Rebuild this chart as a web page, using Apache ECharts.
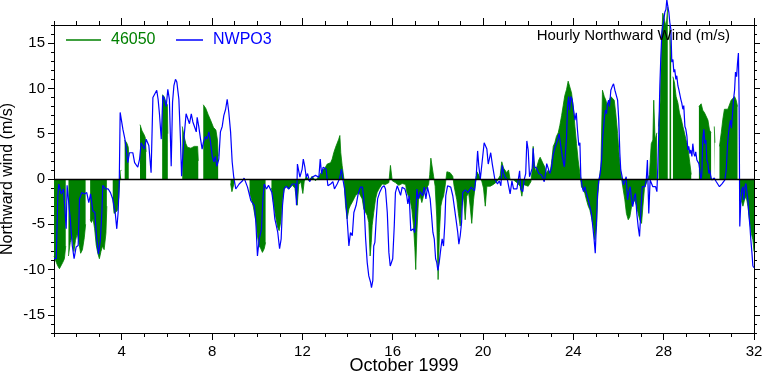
<!DOCTYPE html>
<html><head><meta charset="utf-8">
<script src="https://cdn.jsdelivr.net/npm/echarts@6/dist/echarts.min.js"></script>
<style>html,body{margin:0;padding:0;background:#fff}#c{width:762px;height:374px}</style>
</head><body><div id="c"></div>
<script>
// ---- tick values ----
const xMajorTicks = [4, 8, 12, 16, 20, 24, 28, 32];
const xMinorTicks = [1,2,3,4,5,6,7,8,9,10,11,12,13,14,15,16,17,18,19,20,21,22,23,24,25,26,27,28,29,30,31,32];
const yMajorTicks = [-15, -10, -5, 0, 5, 10, 15];
const yMinorTicks = [-17,-16,-15,-14,-13,-12,-11,-10,-9,-8,-7,-6,-5,-4,-3,-2,-1,0,1,2,3,4,5,6,7,8,9,10,11,12,13,14,15,16,17];

// ---- NWPO3 (blue line): day of October 1999, northward wind (m/s) ----
const nwpoDay = [1.00,1.10,1.17,1.21,1.32,1.42,1.50,1.54,1.58,1.66,1.72,1.81,1.89,1.98,2.07,2.13,2.23,2.35,2.45,2.54,2.62,2.72,2.81,2.88,2.97,3.05,3.12,3.16,3.28,3.40,3.50,3.60,3.71,3.78,3.84,3.89,3.93,4.05,4.14,4.27,4.34,4.49,4.57,4.71,4.79,4.86,5.01,5.08,5.20,5.30,5.38,5.45,5.55,5.61,5.67,5.75,5.82,5.89,5.97,6.04,6.11,6.19,6.25,6.31,6.38,6.44,6.53,6.60,6.65,6.70,6.78,6.85,6.93,7.00,7.08,7.15,7.22,7.30,7.34,7.41,7.49,7.56,7.62,7.71,7.77,7.86,7.93,8.01,8.08,8.15,8.21,8.30,8.37,8.45,8.52,8.60,8.67,8.74,8.82,8.89,8.96,9.05,9.20,9.35,9.42,9.57,9.72,9.87,9.94,10.01,10.09,10.19,10.25,10.31,10.41,10.50,10.57,10.65,10.72,10.78,10.85,10.91,10.99,11.06,11.12,11.19,11.28,11.40,11.55,11.70,11.74,11.78,11.89,11.99,12.04,12.11,12.17,12.23,12.32,12.43,12.58,12.73,12.79,12.85,12.92,13.05,13.13,13.25,13.35,13.42,13.54,13.64,13.73,13.79,13.87,13.94,14.00,14.06,14.13,14.21,14.28,14.38,14.47,14.57,14.66,14.72,14.80,14.87,14.94,15.02,15.06,15.12,15.16,15.21,15.27,15.33,15.42,15.53,15.62,15.68,15.76,15.83,15.89,15.95,16.00,16.07,16.12,16.20,16.27,16.35,16.42,16.54,16.62,16.67,16.73,16.80,16.92,16.97,17.01,17.07,17.13,17.22,17.32,17.40,17.47,17.54,17.62,17.66,17.72,17.78,17.84,17.90,17.95,18.00,18.06,18.13,18.19,18.25,18.31,18.35,18.43,18.50,18.57,18.66,18.74,18.80,18.84,18.88,18.93,18.99,19.05,19.10,19.21,19.33,19.40,19.48,19.55,19.62,19.70,19.76,19.81,19.88,19.93,19.99,20.05,20.11,20.17,20.23,20.29,20.34,20.41,20.46,20.52,20.64,20.72,20.79,20.85,20.91,20.98,21.08,21.20,21.28,21.35,21.50,21.57,21.62,21.67,21.76,21.82,21.89,21.94,22.00,22.06,22.18,22.22,22.27,22.37,22.47,22.59,22.71,22.77,22.82,22.96,23.03,23.09,23.18,23.30,23.37,23.43,23.51,23.60,23.64,23.70,23.74,23.79,23.83,23.89,23.95,24.01,24.07,24.13,24.18,24.24,24.29,24.33,24.39,24.45,24.51,24.58,24.66,24.73,24.80,24.86,24.92,24.97,25.01,25.07,25.13,25.19,25.25,25.29,25.34,25.38,25.42,25.47,25.51,25.56,25.60,25.66,25.72,25.78,25.84,25.90,25.96,26.01,26.06,26.10,26.16,26.22,26.28,26.34,26.40,26.46,26.52,26.58,26.63,26.70,26.75,26.81,26.87,26.93,26.97,27.05,27.17,27.23,27.28,27.34,27.40,27.52,27.64,27.70,27.74,27.79,27.83,27.87,27.92,27.96,28.01,28.05,28.10,28.14,28.18,28.23,28.27,28.32,28.36,28.41,28.45,28.49,28.54,28.58,28.63,28.67,28.72,28.76,28.80,28.85,28.89,28.94,28.98,29.03,29.07,29.11,29.16,29.20,29.25,29.29,29.34,29.38,29.42,29.47,29.51,29.56,29.60,29.65,29.69,29.73,29.78,29.82,29.87,29.91,29.96,30.00,30.04,30.09,30.13,30.24,30.33,30.41,30.47,30.53,30.59,30.65,30.71,30.77,30.83,30.87,30.92,30.96,31.00,31.05,31.09,31.14,31.18,31.23,31.27,31.31,31.34,31.37,31.42,31.46,31.51,31.55,31.60,31.64,31.68,31.73,31.77,31.82,31.86,31.91,31.95,32.00];
const nwpoWind = [-8.8,-8.8,-1.8,-0.55,-1.65,-1.1,-1.1,-5.5,-0.7,-0.55,-4.4,-7.35,-8.8,-7.5,-7.35,-2.2,-1.5,-1.65,-1.5,-2.6,-1.65,-3.5,-3.7,-6.25,-8.3,-6.8,-3.7,-0.7,-1.1,-1.1,-1.5,-2.2,-3.7,-5.5,-3.7,-0.4,7.35,5.5,4.4,1.8,2.9,2.9,1.8,1.3,2.2,4.0,3.3,4.4,3.7,0.7,9.0,9.2,9.8,8.8,7.2,4.4,9.2,8.8,8.0,9.9,8.8,1.4,8.5,10.3,11.0,10.7,8.8,4.4,0.3,2.5,5.2,7.2,7.0,6.1,7.2,6.3,5.8,5.2,6.8,5.8,4.4,3.3,4.1,4.7,4.4,5.2,4.1,2.5,1.9,2.5,1.4,2.2,5.2,5.8,7.0,7.7,8.8,7.4,5.2,1.9,0.2,-1.1,-0.55,-0.2,0.1,-0.9,-2.4,-2.9,-4.8,-8.5,-6.6,-5.5,-2.2,-0.55,-1.1,-0.7,-0.55,-1.5,-2.9,-4.4,-5.2,-5.9,-7.7,-6.6,-2.9,-1.1,-0.8,-1.1,-0.55,-0.55,-2.9,1.65,0.2,1.1,2.2,1.3,0.2,0.6,-0.3,0.2,0.4,0.2,2.2,0.55,1.3,1.1,-0.75,-0.55,-0.3,-1.1,-0.55,0,1.1,0,-1.1,-2.9,-5.1,-7.4,-5.9,-6.25,-3.7,-2.9,-1.65,-0.9,-0.9,-2.2,-6.6,-9.2,-10.7,-11.4,-12.0,-11.2,-7.4,-7.0,-4.4,-2.2,-1.5,-0.9,-0.75,-1.1,-3.7,-8.1,-9.6,-9.7,-8.8,-5.1,-1.5,-0.75,-0.9,-1.8,-0.9,-1.1,-1.85,-2.75,-1.85,-5.7,-5.5,-5.9,-4.8,-1.1,-2.2,-1.4,-1.85,-0.9,-2.2,-0.9,-0.9,-2.2,-4.0,-5.9,-6.6,-8.8,-9.2,-10.1,-9.2,-7.7,-6.6,-7.4,-4.8,-1.85,-0.75,-0.55,-0.9,-1.85,-3.3,-4.4,-4.6,-5.9,-7.2,-6.25,-4.8,-1.5,-1.2,-1.5,-1.65,-0.9,-0.9,-1.3,0.4,3.1,1.5,0,-0.2,2.6,4.0,4.0,3.3,1.65,1.85,2.9,1.65,1.5,0,-0.55,-0.2,-0.75,1.5,0.7,0.2,-0.1,-1.65,-0.2,-1.1,-1.1,-1.1,0.9,-1.1,-1.4,-0.1,0.6,4.2,3.2,0.25,1.2,3.4,1.35,1.2,0.6,0.45,-0.3,0.6,1.7,0.6,1.2,2.5,3.4,4.3,5.0,3.9,2.5,1.35,2.5,4.7,8.0,9.1,7.6,9.1,8.7,8.9,6.5,7.3,5.5,3.7,4.0,0.3,-0.85,-1.4,-0.85,-1.6,-2.3,-3.05,-3.8,-5.25,-6.7,-8.2,-5.6,-1.6,-0.1,0.6,2.1,4.3,5.7,6.9,7.6,7.2,8.3,8.7,8.0,9.8,10.2,10.5,9.8,9.6,8.7,6.5,2.8,1.0,0.25,-0.65,-0.85,0.25,-2.3,-1.4,-0.85,-2.3,-3.05,-1.95,-1.6,-3.8,-5.25,-6.35,-4.5,-0.85,-0.85,-0.1,2.1,-3.8,-0.1,-0.85,-0.85,-1.4,1.35,5.8,10.3,13.2,16.2,16.9,17.6,18.4,18.7,19.8,19.1,18.4,17.3,16.5,12.9,13.2,11.8,12.1,11.0,11.4,10.3,9.9,10.1,8.8,8.4,7.7,8.1,5.8,5.5,4.7,3.2,3.6,2.8,3.2,2.5,3.9,2.8,2.5,3.0,2.1,2.3,1.7,1.0,-0.1,0.6,4.3,5.5,3.9,4.3,2.1,1.7,0.6,1.0,0.25,-0.1,0.1,-0.3,-0.5,-0.85,-1.0,-0.5,-0.3,-0.1,1.0,3.9,5.0,5.95,6.5,5.6,7.2,8.7,9.8,11.8,11.3,12.8,13.9,8.7,-5.25,-2.3,-1.2,-0.85,-2.3,-0.85,-0.5,-0.65,-2.3,-3.8,-5.25,-6.7,-8.2,-9.6,-9.8];

// ---- 46050 buoy (green fill): day, northward wind (m/s); null = missing ----
const buoyDay = [1.00,1.10,1.17,1.24,1.32,1.39,1.46,1.52,1.58,1.64,1.72,1.80,1.88,1.95,2.03,2.10,2.18,2.26,2.34,2.40,2.50,2.60,2.66,2.73,2.80,2.87,2.94,3.01,3.08,3.15,3.22,3.30,3.34,3.45,3.60,3.66,3.72,3.80,3.87,3.90,3.93,3.98,4.05,4.13,4.22,4.29,4.31,4.50,4.81,4.90,4.97,5.04,5.08,5.40,5.79,5.88,5.95,6.02,6.04,6.30,6.68,6.76,6.84,6.91,7.06,7.21,7.36,7.39,7.50,7.61,7.72,7.83,7.95,8.06,8.17,8.24,8.27,8.50,8.82,8.88,8.95,8.98,9.30,9.66,9.72,9.83,9.94,10.01,10.09,10.16,10.23,10.31,10.37,10.50,10.63,10.75,10.82,10.90,10.97,11.05,11.12,11.19,11.27,11.40,11.55,11.67,11.77,11.84,11.93,12.02,12.08,12.17,12.29,12.43,12.58,12.73,12.88,13.02,13.10,13.17,13.25,13.32,13.39,13.47,13.54,13.61,13.66,13.70,13.76,13.84,13.91,13.98,14.06,14.13,14.20,14.28,14.35,14.43,14.50,14.57,14.65,14.72,14.80,14.87,14.94,15.00,15.05,15.09,15.16,15.24,15.31,15.39,15.53,15.68,15.83,15.90,15.98,16.12,16.27,16.42,16.57,16.63,16.77,16.85,16.92,16.98,17.02,17.07,17.14,17.22,17.29,17.36,17.44,17.51,17.59,17.64,17.69,17.73,17.81,17.88,17.95,18.01,18.07,18.13,18.19,18.25,18.32,18.40,18.54,18.66,18.72,18.84,18.91,18.99,19.06,19.14,19.21,19.28,19.36,19.43,19.50,19.58,19.65,19.73,19.84,19.95,20.02,20.10,20.17,20.32,20.46,20.61,20.76,20.83,20.91,21.05,21.13,21.20,21.35,21.50,21.64,21.72,21.79,21.85,22.00,22.12,22.18,22.22,22.26,22.32,22.40,22.47,22.53,22.59,22.66,22.74,22.81,22.89,22.96,23.03,23.11,23.18,23.25,23.33,23.40,23.48,23.55,23.62,23.70,23.77,23.84,23.92,23.99,24.07,24.14,24.21,24.29,24.36,24.44,24.51,24.58,24.66,24.73,24.80,24.88,24.95,25.03,25.07,25.13,25.22,25.29,25.37,25.44,25.51,25.59,25.66,25.73,25.81,25.88,25.96,26.03,26.10,26.21,26.28,26.35,26.43,26.50,26.58,26.65,26.72,26.80,26.87,26.94,27.02,27.08,27.15,27.23,27.30,27.37,27.45,27.52,27.56,27.62,27.70,27.73,27.77,27.85,27.92,27.96,28.04,28.11,28.18,28.22,28.26,28.33,28.37,28.41,28.48,28.55,28.63,28.70,28.78,28.85,28.92,28.99,29.07,29.14,29.22,29.40,29.56,29.66,29.73,29.81,29.88,29.96,30.03,30.10,30.17,30.24,30.27,30.35,30.47,30.55,30.62,30.69,30.77,30.84,30.92,30.99,31.06,31.14,31.21,31.27,31.31,31.36,31.43,31.51,31.58,31.65,31.73,31.80,31.88,31.95,32.00];
const buoyWind = [-8.5,-9.2,-9.6,-9.9,-10.1,-9.2,-8.8,-7.4,null,-8.5,-7.0,-6.2,-8.0,-6.8,-6.0,-7.0,-8.2,-7.8,-6.5,-5.0,null,-4.5,-4.8,-4.4,-5.5,-7.3,-8.2,-8.8,-8.0,-7.4,-7.8,-6.0,-3.0,null,-2.0,-3.8,-4.0,-3.5,-2.0,-0.6,0.8,1.0,null,4.3,4.0,3.5,2.5,null,6.0,5.3,5.0,4.6,3.0,null,9.3,9.1,8.5,8.2,5.0,null,5.8,4.7,3.9,3.5,3.4,3.6,3.6,2.0,null,8.2,7.8,7.1,6.4,5.7,5.4,4.3,2.5,null,-0.5,-1.4,-1.3,-0.4,null,-1.5,-2.0,-3.1,-4.6,-6.3,-7.4,-7.7,-8.1,-7.7,-7.0,null,-1.0,-3.1,-4.2,-5.3,-5.7,-4.6,-2.3,-1.2,-0.8,-1.1,-0.7,-1.0,-2.9,-0.6,-0.3,-1.6,-0.3,0.3,-0.2,0.3,-0.2,0.3,0.9,1.3,1.65,1.5,1.8,2.2,2.9,3.5,3.3,4.4,4.8,2.9,1.5,0,-2.9,-4.4,-3.3,-2.9,-2.6,-2.2,-1.85,-2.0,-1.5,-1.3,-2.2,-3.3,-3.7,-4.0,-4.8,-8.5,-7.0,-5.1,-3.7,-2.2,-1.5,-1.1,-0.55,-0.6,-0.4,1.5,-0.2,-0.4,-0.7,-0.5,-0.6,-1.5,-2.3,-3.4,-5.1,-7.6,-10.0,-5.9,-2.3,-1.9,-2.6,-1.9,-1.3,-1.2,-0.6,0.5,2.3,2.1,0.3,-0.8,-4.2,-11.1,-5.9,-3.0,-2.3,-1.9,-0.8,0.8,0.7,0.3,-0.8,-2.3,-3.8,-5.2,-3.0,-1.9,-4.5,-1.9,-1.5,-3.0,-4.9,-2.3,-0.8,0.8,0.3,-0.3,-1.0,-3.0,-0.8,-0.8,-0.6,-0.3,0.4,1.9,1.2,0.7,1.0,-0.1,-0.1,-0.4,-0.8,-1.9,-0.6,-0.5,-0.8,-0.3,1.0,3.6,2.0,0.8,1.5,2.1,2.4,2.3,1.7,1.3,0.6,1.0,0.6,1.7,3.6,4.0,4.7,5.1,5.9,7.0,8.1,9.2,9.9,10.8,10.6,9.5,8.1,5.8,3.9,2.1,0.6,-0.85,-1.2,-1.6,-2.3,-3.0,-3.4,-4.2,-5.2,-6.7,-5.2,-2.3,-0.3,1.4,9.8,9.1,8.7,8.0,8.7,9.1,9.1,8.7,7.2,5.0,2.5,0.6,-1.2,-2.3,-3.8,-4.5,-4.2,-3.0,-2.7,-2.3,-3.0,-3.8,-4.5,-4.9,-3.0,-1.0,-0.5,-0.3,0.5,3.9,4.3,8.7,4.3,5.1,null,5.8,8.7,16.0,18.3,17.5,16.8,19.0,null,17.0,13.0,null,11.3,10.6,9.1,8.4,7.3,6.6,5.8,5.1,4.3,3.6,2.1,0.5,null,8.0,8.3,7.6,7.3,7.3,6.5,5.4,5.1,null,5.8,4.0,null,3.6,5.1,6.6,7.7,7.9,7.7,7.9,8.7,8.7,9.1,8.7,8.0,null,-1.0,-2.3,-3.0,-2.3,-1.9,-3.0,-4.5,-6.0,-6.7,-8.0];

const FONT = '"Liberation Sans", Arial, Helvetica, sans-serif';
const AX = '#000';

const buoyData = buoyDay.map((d, i) => [d, buoyWind[i] === null ? '-' : buoyWind[i]]);
const nwpoData = nwpoDay.map((d, i) => [d, nwpoWind[i]]);

function xAxisDef(pos, ticks, len, showLabel, extra) {
  return Object.assign({
    type: 'value', position: pos, min: 1, max: 32,
    axisLine: { show: true, onZero: false, lineStyle: { color: AX, width: 1 } },
    axisTick: { show: true, customValues: ticks, length: len, inside: false, lineStyle: { color: AX, width: 1 } },
    axisLabel: showLabel ? { show: true, customValues: ticks, fontSize: 15, color: '#000', margin: 11, fontFamily: FONT } : { show: false },
    splitLine: { show: false }
  }, extra || {});
}
function yAxisDef(pos, ticks, len, showLabel, extra) {
  return Object.assign({
    type: 'value', position: pos, min: -17, max: 17,
    axisLine: { show: true, onZero: false, lineStyle: { color: AX, width: 1 } },
    axisTick: { show: true, customValues: ticks, length: len, inside: false, lineStyle: { color: AX, width: 1 } },
    axisLabel: showLabel ? { show: true, customValues: ticks, fontSize: 15, color: '#000', margin: 9, fontFamily: FONT } : { show: false },
    splitLine: { show: false }
  }, extra || {});
}

const chart = echarts.init(document.getElementById('c'), null, { renderer: 'canvas' });
chart.setOption({
  animation: false,
  backgroundColor: '#fff',
  textStyle: { fontFamily: FONT },
  grid: { left: 54, right: 8, top: 25, bottom: 41, containLabel: false, outerBoundsMode: 'none' },
  title: {
    text: 'Hourly Northward Wind (m/s)', right: 32, top: 28, padding: 0,
    textStyle: { fontSize: 15, fontWeight: 'normal', color: '#000', fontFamily: FONT }
  },
  legend: [
    { data: [{ name: '46050', textStyle: { color: '#008000' } }], left: 66, top: 32, padding: 0,
      icon: 'rect', itemWidth: 35, itemHeight: 1.5, selectedMode: false,
      textStyle: { fontSize: 16, fontFamily: FONT, padding: [0, 0, 0, 5] } },
    { data: [{ name: 'NWPO3', textStyle: { color: '#0000ff' } }], left: 176, top: 32, padding: 0,
      icon: 'rect', itemWidth: 27, itemHeight: 1.5, selectedMode: false,
      textStyle: { fontSize: 16, fontFamily: FONT, padding: [0, 0, 0, 5] } }
  ],
  xAxis: [
    xAxisDef('bottom', xMajorTicks, 7, true, {
      name: 'October 1999', nameLocation: 'middle', nameGap: 24, nameMoveOverlap: false,
      nameTextStyle: { fontSize: 18, color: '#000', fontFamily: FONT, verticalAlign: 'top' }
    }),
    xAxisDef('bottom', xMinorTicks, 4, false),
    xAxisDef('top', xMajorTicks, 7, false),
    xAxisDef('top', xMinorTicks, 4, false)
  ],
  yAxis: [
    yAxisDef('left', yMajorTicks, 6, true, {
      name: 'Northward wind (m/s)', nameLocation: 'middle', nameGap: 38, nameMoveOverlap: false,
      nameTextStyle: { fontSize: 16, color: '#000', fontFamily: FONT }
    }),
    yAxisDef('left', yMinorTicks, 3, false),
    yAxisDef('right', yMajorTicks, 6, false),
    yAxisDef('right', yMinorTicks, 3, false)
  ],
  series: [
    {
      name: '46050', type: 'line', xAxisIndex: 0, yAxisIndex: 0,
      data: buoyData, symbol: 'none', showSymbol: false, connectNulls: false, clip: false,
      itemStyle: { color: '#008000' },
      lineStyle: { color: '#008000', width: 0.8 },
      areaStyle: { color: '#008000', opacity: 1 },
      markLine: {
        silent: true, symbol: 'none', label: { show: false }, animation: false,
        lineStyle: { color: '#000', width: 1.3, type: 'solid' },
        data: [{ yAxis: 0 }]
      },
      z: 2
    },
    {
      name: 'NWPO3', type: 'line', xAxisIndex: 0, yAxisIndex: 0,
      data: nwpoData, symbol: 'none', showSymbol: false, clip: false,
      itemStyle: { color: '#0000ff' },
      lineStyle: { color: '#0000ff', width: 1.2 },
      z: 3
    }
  ]
});
</script>
</body></html>
